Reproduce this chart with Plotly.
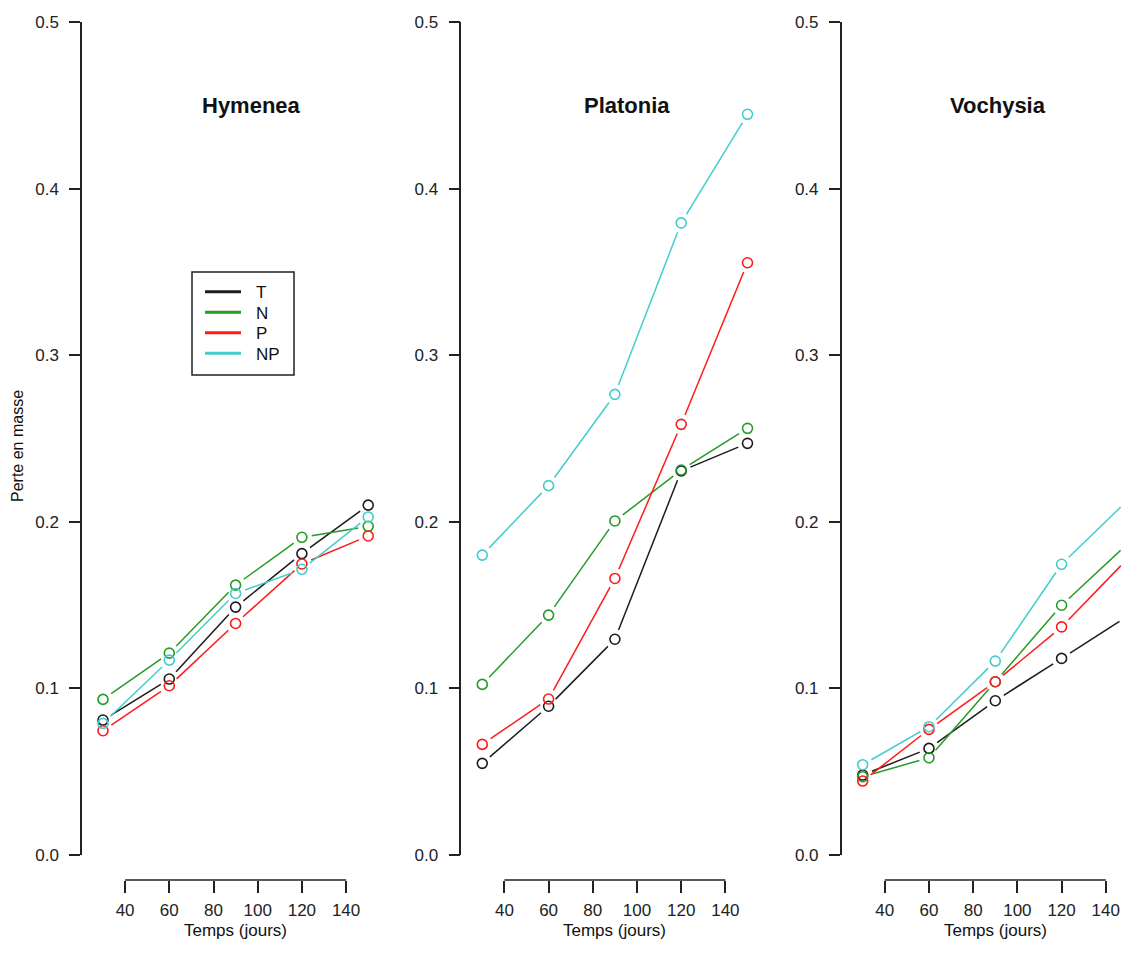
import math
import plotly.graph_objects as go

# ---- data: mass loss per litter species and nutrient treatment ----
days = [30, 60, 90, 120, 150]
species = ["Hymenea", "Platonia", "Vochysia"]
treatments = ["T", "N", "P", "NP"]

hymenea_T = [0.081, 0.1056, 0.1488, 0.1809, 0.210]
hymenea_N = [0.0934, 0.1212, 0.162, 0.1907, 0.1973]
hymenea_P = [0.0746, 0.1016, 0.139, 0.1747, 0.1915]
hymenea_NP = [0.079, 0.117, 0.157, 0.1715, 0.2029]

platonia_T = [0.055, 0.0893, 0.1295, 0.2305, 0.2471]
platonia_N = [0.1024, 0.144, 0.2005, 0.2311, 0.2561]
platonia_P = [0.0664, 0.0936, 0.166, 0.2585, 0.3555]
platonia_NP = [0.180, 0.2217, 0.2765, 0.3794, 0.4446]

vochysia_T = [0.048, 0.064, 0.0926, 0.118, 0.1435]
vochysia_N = [0.047, 0.0584, 0.104, 0.1499, 0.187]
vochysia_P = [0.0444, 0.0754, 0.104, 0.1369, 0.178]
vochysia_NP = [0.0542, 0.077, 0.1164, 0.1745, 0.213]

series = {
    "Hymenea": {"T": hymenea_T, "N": hymenea_N, "P": hymenea_P, "NP": hymenea_NP},
    "Platonia": {"T": platonia_T, "N": platonia_N, "P": platonia_P, "NP": platonia_NP},
    "Vochysia": {"T": vochysia_T, "N": vochysia_N, "P": vochysia_P, "NP": vochysia_NP},
}

y_ticks = [0.0, 0.1, 0.2, 0.3, 0.4, 0.5]
x_ticks = [40, 60, 80, 100, 120, 140]

colors = {"T": "#1c1c1c", "N": "#259b25", "P": "#ff1a1a", "NP": "#45cccc"}

# ---- page geometry (pixels) ----
W, H = 1121, 956
FONT = "Liberation Sans, Arial, Helvetica, sans-serif"
X_START = 20.5            # day value at the y-axis line
PX_PER_DAY = 2.21
Y_TOP_PX, Y_ZERO_PX = 22, 855
Y_MAX = 0.5
XAXIS_PX = 880
panel_left_px = [82, 461.3, 841.7]
title_x = [97.2, 95.3, 91.1]
GAP_PX = 10               # gap left around each point (type "b" lines)

ky = (Y_ZERO_PX - Y_TOP_PX) / Y_MAX


def px(x):
    return x / W


def py(y):
    return 1 - y / H


def gapped(xs, ys):
    """Line segments between consecutive points, stopped short of each point."""
    gx, gy = [], []
    for (x0, y0), (x1, y1) in zip(zip(xs, ys), zip(xs[1:], ys[1:])):
        dxp = (x1 - x0) * PX_PER_DAY
        dyp = (y1 - y0) * ky
        d = math.hypot(dxp, dyp)
        if d <= 2 * GAP_PX:
            continue
        f = GAP_PX / d
        gx += [x0 + f * (x1 - x0), x1 - f * (x1 - x0), None]
        gy += [y0 + f * (y1 - y0), y1 - f * (y1 - y0), None]
    return gx, gy


fig = go.Figure()
shapes, annotations = [], []
layout_axes = {}

for i, sp in enumerate(species):
    n = "" if i == 0 else str(i + 1)
    xa, ya = "x" + n, "y" + n
    left = panel_left_px[i]
    right = min(left + (155 - X_START) * PX_PER_DAY, W)
    x_end = X_START + (right - left) / PX_PER_DAY

    for t in treatments:
        vals = series[sp][t]
        lx, ly = gapped(days, vals)
        fig.add_trace(go.Scatter(
            x=lx, y=ly, mode="lines", xaxis=xa, yaxis=ya,
            line=dict(color=colors[t], width=1.5), showlegend=False,
            hoverinfo="skip"))
        fig.add_trace(go.Scatter(
            x=days, y=vals, mode="markers", xaxis=xa, yaxis=ya, name=t,
            marker=dict(symbol="circle-open", size=10, color=colors[t],
                        line=dict(width=1.6, color=colors[t])),
            showlegend=False))

    layout_axes["xaxis" + n] = dict(
        domain=[px(left), px(right)], range=[X_START, x_end],
        anchor="free", position=py(XAXIS_PX),
        showline=False, showgrid=False, zeroline=False,
        tickmode="array", tickvals=x_ticks, ticktext=[str(v) for v in x_ticks],
        ticks="outside", ticklen=12, tickwidth=1.5, tickcolor="#222",
        ticklabelstandoff=3,
        tickfont=dict(family=FONT, size=17, color="#222"),
    )
    layout_axes["yaxis" + n] = dict(
        domain=[py(Y_ZERO_PX), py(Y_TOP_PX)], range=[0, Y_MAX],
        anchor=xa, showline=True, linecolor="#222", linewidth=1.5,
        showgrid=False, zeroline=False,
        tickmode="array", tickvals=y_ticks, ticktext=[f"{v:.1f}" for v in y_ticks],
        ticks="outside", ticklen=11, tickwidth=1.5, tickcolor="#222",
        ticklabelstandoff=7,
        tickfont=dict(family=FONT, size=17, color="#222"),
    )

    # x-axis line spans only the first to last tick
    shapes.append(dict(type="line", xref=xa, yref="paper",
                       x0=x_ticks[0], x1=x_ticks[-1],
                       y0=py(XAXIS_PX), y1=py(XAXIS_PX),
                       line=dict(color="#222", width=1.5)))

    annotations.append(dict(text="<b>" + sp + "</b>", xref=xa, yref=ya,
                            x=title_x[i], y=0.45, showarrow=False,
                            xanchor="center", yanchor="middle",
                            font=dict(family=FONT, size=22, color="#111")))
    annotations.append(dict(text="Temps (jours)", xref=xa, yref="paper",
                            x=90, y=py(930), showarrow=False,
                            xanchor="center", yanchor="middle",
                            font=dict(family=FONT, size=17, color="#111")))

annotations.append(dict(text="Perte en masse", xref="paper", yref="paper",
                        x=px(17), y=py(446), textangle=-90, showarrow=False,
                        xanchor="center", yanchor="middle",
                        font=dict(family=FONT, size=16, color="#111")))

# legend box (lines only, as in base graphics)
shapes.append(dict(type="rect", xref="paper", yref="paper",
                   x0=px(192), x1=px(294), y0=py(375), y1=py(272),
                   line=dict(color="#222", width=1.5), fillcolor="white",
                   layer="above"))
legend_rows_px = [291.7, 312.2, 332.8, 353.3]
for t, row in zip(treatments, legend_rows_px):
    shapes.append(dict(type="line", xref="paper", yref="paper",
                       x0=px(205), x1=px(241), y0=py(row), y1=py(row),
                       line=dict(color=colors[t], width=3), layer="above"))
    annotations.append(dict(text=t, xref="paper", yref="paper",
                            x=px(254), y=py(row + 1), showarrow=False,
                            xanchor="left", yanchor="middle",
                            font=dict(family=FONT, size=17, color="#111")))

fig.update_layout(
    width=W, height=H,
    margin=dict(l=0, r=0, t=0, b=0, autoexpand=False),
    paper_bgcolor="white", plot_bgcolor="white",
    showlegend=False,
    shapes=shapes, annotations=annotations,
    **layout_axes,
)

fig.write_html("out.html")
